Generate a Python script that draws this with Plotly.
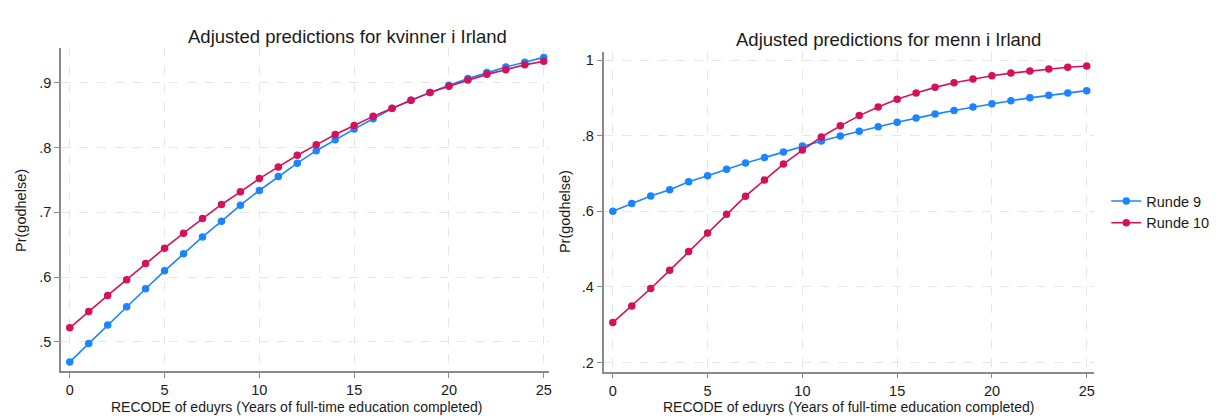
import plotly.graph_objects as go

# browser body margin of 8px offsets the figure; size figure to fill the rest of the window
OFF = 8
W, H = 1215, 408

educ_years = list(range(26))

women_r9 = [0.469, 0.4975, 0.526, 0.554, 0.582, 0.6096, 0.636, 0.662, 0.686, 0.711,
            0.7336, 0.755, 0.7757, 0.795, 0.812, 0.8283, 0.8444, 0.860, 0.873, 0.885,
            0.896, 0.9065, 0.9157, 0.924, 0.9316, 0.939]
women_r10 = [0.5216, 0.547, 0.5716, 0.596, 0.621, 0.6446, 0.6677, 0.6905, 0.712, 0.7315,
             0.752, 0.770, 0.788, 0.804, 0.820, 0.834, 0.848, 0.8606, 0.873, 0.885,
             0.8945, 0.904, 0.9128, 0.920, 0.9275, 0.933]
men_r9 = [0.600, 0.621, 0.6407, 0.657, 0.678, 0.694, 0.711, 0.7277, 0.742, 0.757,
          0.7728, 0.786, 0.7992, 0.812, 0.8238, 0.8353, 0.8467, 0.857, 0.8667, 0.8758,
          0.8845, 0.8925, 0.900, 0.9067, 0.9128, 0.919]
men_r10 = [0.306, 0.350, 0.396, 0.444, 0.4935, 0.543, 0.592, 0.640, 0.6826, 0.725,
           0.762, 0.7966, 0.826, 0.853, 0.8757, 0.896, 0.9128, 0.9277, 0.940, 0.9496,
           0.9585, 0.9654, 0.971, 0.9763, 0.981, 0.9842]

series_names = ["Runde 9", "Runde 10"]
colors = ["#1a85ff", "#d41159"]

x_ticks = [0, 5, 10, 15, 20, 25]
left_yticks = [0.5, 0.6, 0.7, 0.8, 0.9]
left_yticklabels = [".5", ".6", ".7", ".8", ".9"]
right_yticks = [0.2, 0.4, 0.6, 0.8, 1.0]
right_yticklabels = [".2", ".4", ".6", ".8", "1"]

title_left = "Adjusted predictions for kvinner i Irland"
title_right = "Adjusted predictions for menn i Irland"
x_title = "RECODE of eduyrs (Years of full-time education completed)"
y_title = "Pr(godhelse)"

FONT = "Liberation Sans, Arial, Helvetica, sans-serif"
TXT = "#1a1a1a"

fig = go.Figure()
for vals, name, col in [(women_r9, series_names[0], colors[0]),
                        (women_r10, series_names[1], colors[1])]:
    fig.add_trace(go.Scatter(x=educ_years, y=vals, mode="lines+markers", name=name,
                             line=dict(color=col, width=1.6),
                             marker=dict(color=col, size=7.5),
                             xaxis="x", yaxis="y", showlegend=False))
for vals, name, col in [(men_r9, series_names[0], colors[0]),
                        (men_r10, series_names[1], colors[1])]:
    fig.add_trace(go.Scatter(x=educ_years, y=vals, mode="lines+markers", name=name,
                             line=dict(color=col, width=1.6),
                             marker=dict(color=col, size=7.5),
                             xaxis="x2", yaxis="y2", showlegend=True))

def px(xp):
    return (xp - OFF) / W

def py(yp):
    return 1 - (yp - OFF) / H

axis_common = dict(showline=True, linecolor="#8a8a8a", linewidth=1.5,
                   ticks="outside", ticklen=5, tickcolor="#8a8a8a", tickwidth=1.2,
                   showgrid=True, gridcolor="#e6e6e6", griddash="dash", gridwidth=1,
                   zeroline=False, tickfont=dict(size=14.5, color=TXT, family=FONT))

fig.update_layout(
    width=W, height=H,
    margin=dict(l=0, r=0, t=0, b=0),
    paper_bgcolor="white", plot_bgcolor="white",
    font=dict(family=FONT, color=TXT),
    xaxis=dict(domain=[px(61), px(550)], range=[-0.47, 25.26], tickvals=x_ticks,
               anchor="y", **axis_common),
    yaxis=dict(domain=[py(371), py(48)], range=[0.455, 0.9535], tickvals=left_yticks,
               ticktext=left_yticklabels, anchor="x", **axis_common),
    xaxis2=dict(domain=[px(605), px(1097)], range=[-0.49, 25.4], tickvals=x_ticks,
                anchor="y2", **axis_common),
    yaxis2=dict(domain=[py(371.7), py(51.7)], range=[0.176, 1.022], tickvals=right_yticks,
                ticktext=right_yticklabels, anchor="x2", **axis_common),
    legend=dict(x=px(1109), y=py(212), xanchor="left", yanchor="middle",
                font=dict(size=14.5, color=TXT, family=FONT), bgcolor="rgba(0,0,0,0)",
                itemwidth=30, tracegroupgap=0),
)

annots = [
    dict(text=title_left, x=px(348), y=py(37), size=18.5, angle=0),
    dict(text=title_right, x=px(891), y=py(40), size=18.5, angle=0),
    dict(text=x_title, x=px(297), y=py(407), size=14, angle=0),
    dict(text=x_title, x=px(851), y=py(407), size=14, angle=0),
    dict(text=y_title, x=px(21), y=py(210), size=14.5, angle=-90),
    dict(text=y_title, x=px(566), y=py(211.5), size=14.5, angle=-90),
]
for a in annots:
    fig.add_annotation(xref="paper", yref="paper", showarrow=False,
                       xanchor="center", yanchor="middle",
                       font=dict(family=FONT, color=TXT, size=a["size"]),
                       text=a["text"], x=a["x"], y=a["y"], textangle=a["angle"])

fig.write_html("out.html")
